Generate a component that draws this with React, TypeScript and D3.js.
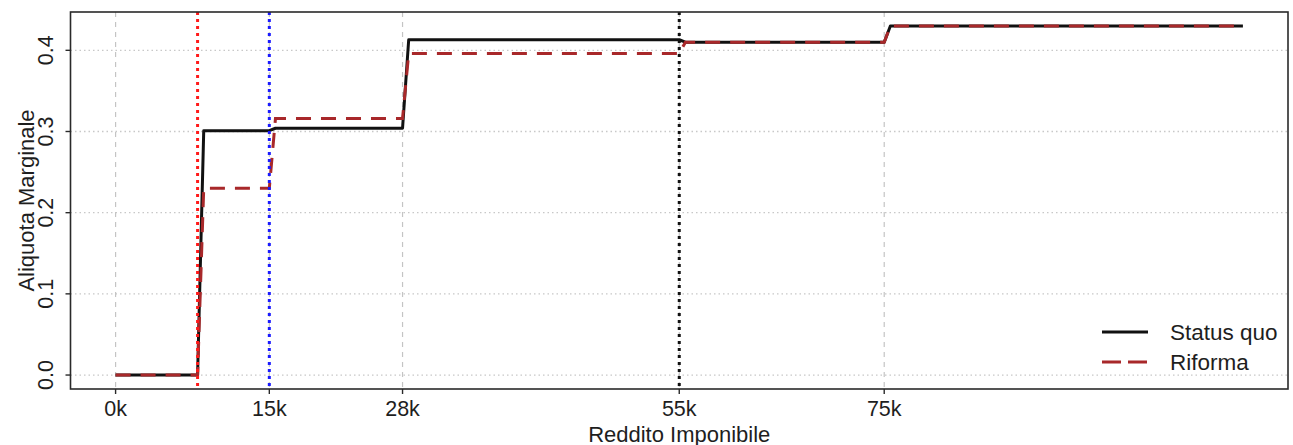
import React from "react";
import * as d3 from "d3";

// Income brackets (euros) and marginal rates per bracket
const incomeBreaks = [0, 8000, 15000, 28000, 55000, 75000, 110000];
const statusQuoRates = [0, 0.301, 0.304, 0.413, 0.41, 0.43];
const riformaRates = [0, 0.23, 0.316, 0.396, 0.41, 0.43];

const xTickValues = [0, 15000, 28000, 55000, 75000];
const xTickLabels = ["0k", "15k", "28k", "55k", "75k"];
const yTickValues = [0, 0.1, 0.2, 0.3, 0.4];
const yTickLabels = ["0.0", "0.1", "0.2", "0.3", "0.4"];
const gridIncomes = [0, 15000, 28000, 55000, 75000];

const markerIncomes = [8000, 15000, 55000];
const markerColors = ["#ff1a1a", "#1a1aff", "#111111"];

const legendLabels = ["Status quo", "Riforma"];

const W = 1293;
const H = 445;
const left = 70.5;
const right = 1288;
const top = 12;
const bottom = 389;
const RAMP = 600; // sampling width of each rate jump
const FONT = "'Liberation Sans', Arial, Helvetica, sans-serif";

function stepPoints(rates: number[]): [number, number][] {
  const pts: [number, number][] = [];
  rates.forEach((r, i) => {
    const start = i === 0 ? incomeBreaks[0] : incomeBreaks[i] + RAMP;
    pts.push([start, r]);
    pts.push([incomeBreaks[i + 1], r]);
  });
  return pts;
}

export default function App() {
  const xPad = (incomeBreaks[incomeBreaks.length - 1] - incomeBreaks[0]) * 0.04;
  const x = d3
    .scaleLinear()
    .domain([incomeBreaks[0] - xPad, incomeBreaks[incomeBreaks.length - 1] + xPad])
    .range([left, right]);
  const yMax = 0.43;
  const yPad = yMax * 0.04;
  const y = d3.scaleLinear().domain([-yPad, yMax + yPad]).range([bottom, top]);

  const line = d3
    .line<[number, number]>()
    .x((d) => x(d[0]))
    .y((d) => y(d[1]));

  const sqPath = line(stepPoints(statusQuoRates)) || "";
  const rfPath = line(stepPoints(riformaRates)) || "";

  const textColor = "#1e1e1e";

  return (
    <svg
      width={W}
      height={H}
      style={{ position: "absolute", left: 0, top: 0, background: "#fff" }}
      fontFamily={FONT}
    >
      <rect x={0} y={0} width={W} height={H} fill="#fff" />
      {/* horizontal grid */}
      {yTickValues.map((v) => (
        <line
          key={"hg" + v}
          x1={left}
          x2={right}
          y1={y(v)}
          y2={y(v)}
          stroke="#c8c8c8"
          strokeWidth={1.3}
          strokeDasharray="1.5 3"
        />
      ))}
      {/* vertical grid */}
      {gridIncomes.map((v) => (
        <line
          key={"vg" + v}
          x1={x(v)}
          x2={x(v)}
          y1={top}
          y2={bottom}
          stroke="#c4c4c4"
          strokeWidth={1.2}
          strokeDasharray="5 5"
        />
      ))}
      {/* series */}
      <path d={sqPath} fill="none" stroke="#111" strokeWidth={3} strokeLinejoin="round" />
      <path
        d={rfPath}
        fill="none"
        stroke="#a8282a"
        strokeWidth={3}
        strokeDasharray="15 10"
      />
      {/* reference incomes */}
      {markerIncomes.map((v, i) => (
        <line
          key={"mk" + v}
          x1={x(v)}
          x2={x(v)}
          y1={top}
          y2={bottom}
          stroke={markerColors[i]}
          strokeWidth={3}
          strokeDasharray="3 4"
        />
      ))}
      {/* box */}
      <rect
        x={left}
        y={top}
        width={right - left}
        height={bottom - top}
        fill="none"
        stroke="#2a2a2a"
        strokeWidth={1.6}
      />
      {/* x axis */}
      {xTickValues.map((v, i) => (
        <g key={"xt" + v}>
          <line x1={x(v)} x2={x(v)} y1={bottom} y2={bottom + 5} stroke="#2a2a2a" strokeWidth={1.4} />
          <text
            x={x(v)}
            y={408.5}
            textAnchor="middle"
            dominantBaseline="central"
            fontSize={21.5}
            fill={textColor}
          >
            {xTickLabels[i]}
          </text>
        </g>
      ))}
      <text
        x={(left + right) / 2}
        y={441.5}
        textAnchor="middle"
        fontSize={22}
        fill={textColor}
      >
        Reddito Imponibile
      </text>
      {/* y axis */}
      {yTickValues.map((v, i) => (
        <g key={"yt" + v}>
          <line x1={left - 5} x2={left} y1={y(v)} y2={y(v)} stroke="#2a2a2a" strokeWidth={1.4} />
          <text
            transform={`translate(${53},${y(v)}) rotate(-90)`}
            textAnchor="middle"
            fontSize={21.5}
            fill={textColor}
          >
            {yTickLabels[i]}
          </text>
        </g>
      ))}
      <text
        transform={`translate(${34},${(top + bottom) / 2}) rotate(-90)`}
        textAnchor="middle"
        fontSize={22}
        fill={textColor}
      >
        Aliquota Marginale
      </text>
      {/* legend */}
      <line x1={1102} x2={1148} y1={332} y2={332} stroke="#111" strokeWidth={3} />
      <line
        x1={1102}
        x2={1148}
        y1={362}
        y2={362}
        stroke="#a8282a"
        strokeWidth={3}
        strokeDasharray="19 7"
      />
      {legendLabels.map((t, i) => (
        <text
          key={t}
          x={1170}
          y={332 + i * 30}
          dominantBaseline="central"
          fontSize={22.5}
          fill={textColor}
        >
          {t}
        </text>
      ))}
    </svg>
  );
}
